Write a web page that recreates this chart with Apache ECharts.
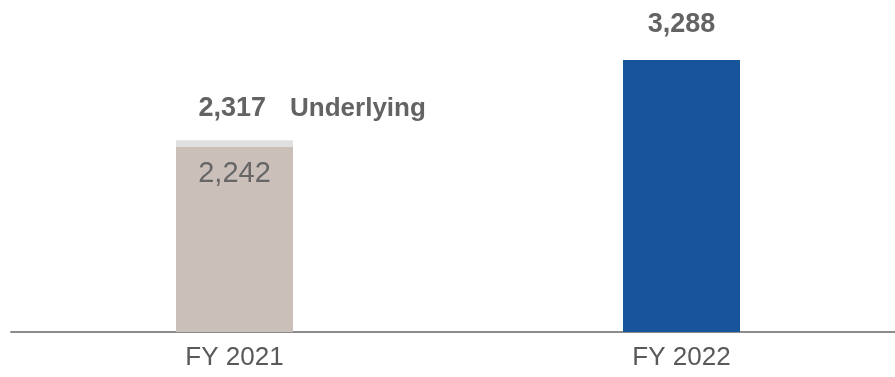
<!DOCTYPE html>
<html>
<head>
<meta charset="utf-8">
<script src="https://cdn.jsdelivr.net/npm/echarts@6/dist/echarts.min.js"></script>
<style>html,body{margin:0;padding:0;background:#fff}#c{width:895px;height:377px}</style>
</head>
<body>
<div id="c"></div>
<script>
var categories = ['FY 2021', 'FY 2022'];
var reported = [2242, 3288];
var underlying = [2317, null];
var underlyingLabel = 'Underlying';

var fmt = function (v) { return v.toLocaleString('en-US'); };
var barColors = ['#cbbfba', '#18549b'];
var gap = underlying.map(function (u, i) { return u == null ? '-' : u - reported[i]; });

var chart = echarts.init(document.getElementById('c'));
chart.setOption({
  animation: false,
  grid: { left: 11, width: 894, top: 1, bottom: 45, outerBoundsMode: 'none', containLabel: false },
  xAxis: {
    type: 'category',
    data: categories,
    axisLine: { lineStyle: { color: '#8c8c8c', width: 2 } },
    axisTick: { show: false },
    axisLabel: { color: '#595959', fontSize: 26, fontFamily: 'Liberation Sans', margin: 13 }
  },
  yAxis: { type: 'value', min: 0, max: 4000, show: false, splitLine: { show: false } },
  series: [
    {
      type: 'bar', stack: 's', barWidth: 117,
      data: reported.map(function (v, i) {
        return {
          value: v,
          itemStyle: { color: barColors[i] },
          label: underlying[i] == null ? {
            show: true, position: 'top', distance: 22,
            fontFamily: 'Liberation Sans', fontWeight: 'bold', fontSize: 27, color: '#636363',
            formatter: function (p) { return fmt(p.value); }
          } : {
            show: true, position: 'insideTop', distance: 13,
            fontFamily: 'Liberation Sans', fontSize: 29, color: '#666666',
            formatter: function (p) { return fmt(p.value); }
          }
        };
      })
    },
    {
      type: 'bar', stack: 's', barWidth: 117,
      itemStyle: { color: '#e0e0e0' },
      data: gap,
      label: {
        show: true, position: 'top', distance: 18, align: 'left', offset: [-36, 0],
        formatter: function (p) {
          var u = underlying[p.dataIndex];
          return '{a|' + fmt(u) + '}{b|' + underlyingLabel + '}';
        },
        rich: {
          a: { fontFamily: 'Liberation Sans', fontWeight: 'bold', fontSize: 27, color: '#636363' },
          b: { fontFamily: 'Liberation Sans', fontWeight: 'bold', fontSize: 26, color: '#636363', padding: [0, 0, 0, 24] }
        }
      }
    }
  ]
});
</script>
</body>
</html>
